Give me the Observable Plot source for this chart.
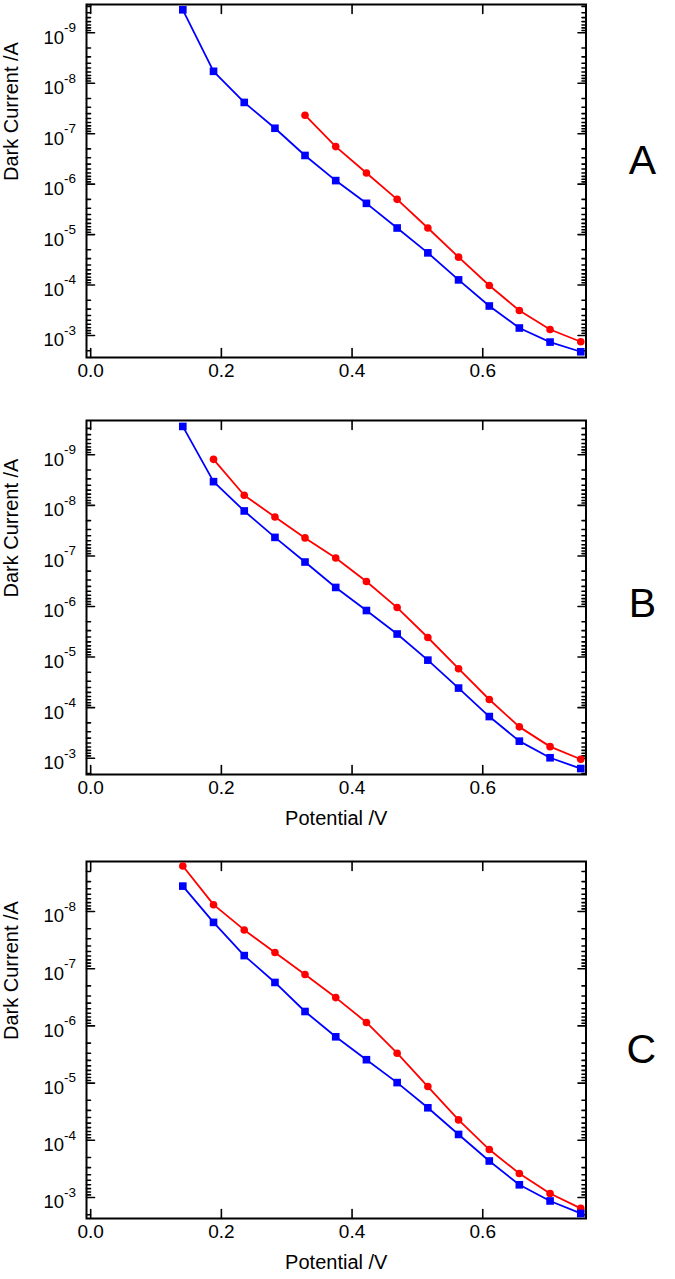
<!DOCTYPE html>
<html><head><meta charset="utf-8">
<script src="https://cdn.jsdelivr.net/npm/d3@7"></script>
<script src="https://cdn.jsdelivr.net/npm/@observablehq/plot@0.6"></script>
<style>
html,body{margin:0;padding:0;background:#fff;}
#chart svg{display:block;}
</style></head><body><div id="chart"></div>
<script>
// ---- data ----
const potential = [0.141, 0.188, 0.235, 0.282, 0.328, 0.375, 0.422, 0.469, 0.516, 0.563, 0.610, 0.656, 0.703, 0.750];
const blueA = [3.5e-10, 5.8e-9, 2.4e-8, 7.8e-8, 2.7e-7, 8.5e-7, 2.4e-6, 7.4e-6, 2.3e-5, 7.9e-5, 2.6e-4, 7.1e-4, 1.35e-3, 2.1e-3];
const redA  = [null, null, null, null, 4.3e-8, 1.8e-7, 6.0e-7, 2.0e-6, 7.4e-6, 2.8e-5, 1.02e-4, 3.2e-4, 7.6e-4, 1.33e-3];
const blueB = [2.75e-10, 3.4e-9, 1.29e-8, 4.3e-8, 1.32e-7, 4.2e-7, 1.2e-6, 3.5e-6, 1.15e-5, 4.1e-5, 1.5e-4, 4.6e-4, 9.8e-4, 1.6e-3];
const redB  = [null, 1.23e-9, 6.3e-9, 1.7e-8, 4.4e-8, 1.1e-7, 3.2e-7, 1.05e-6, 4.1e-6, 1.7e-5, 6.9e-5, 2.4e-4, 5.9e-4, 1.05e-3];
const blueC = [3.6e-9, 1.55e-8, 5.9e-8, 1.74e-7, 5.6e-7, 1.55e-6, 3.9e-6, 9.8e-6, 2.7e-5, 7.9e-5, 2.3e-4, 6.0e-4, 1.15e-3, 1.9e-3];
const redC  = [1.6e-9, 7.6e-9, 2.1e-8, 5.2e-8, 1.26e-7, 3.2e-7, 8.7e-7, 3.0e-6, 1.15e-5, 4.4e-5, 1.45e-4, 3.8e-4, 8.5e-4, 1.55e-3];
const panelLetters = ["A", "B", "C"];
const xTicks = [0, 0.2, 0.4, 0.6];
const xTickLabels = ["0.0", "0.2", "0.4", "0.6"];
const yTickExponents = [-9, -8, -7, -6, -5, -4, -3];
const xTitle = "Potential /V";
const yTitle = "Dark Current /A";

// ---- layout ----
const FONT = "'Liberation Sans', Arial, Helvetica, sans-serif";
const W = 675, ML = 86, MR = 89.5;
const xDomain = [-0.0064, 0.758];
const panels = [
  {letter: panelLetters[0], blue: blueA, red: redA, yDomain: [10 ** -9.561, 10 ** -2.564], height: 410, mt: 4,  mb: 53, showXTitle: false, letterDy: -20},
  {letter: panelLetters[1], blue: blueB, red: redB, yDomain: [10 ** -9.678, 10 ** -2.678], height: 430, mt: 10, mb: 66, showXTitle: true,  letterDy: 6},
  {letter: panelLetters[2], blue: blueC, red: redC, yDomain: [10 ** -8.874, 10 ** -2.633], height: 439, mt: 21, mb: 61, showXTitle: true,  letterDy: 10}
];

const tickShape = {draw(ctx, l) { ctx.moveTo(0, 0); ctx.lineTo(0, -l); }};

function makePanel(p) {
  const [lo, hi] = p.yDomain;
  const inDom = v => v >= lo * 0.999 && v <= hi * 1.001;
  const majors = yTickExponents.map(e => 10 ** e).filter(inDom);
  const majorExps = yTickExponents.filter(e => inDom(10 ** e));
  const minors = [];
  for (let e = -11; e <= -2; e++) for (let k = 2; k <= 9; k++) { const v = k * 10 ** e; if (inDom(v)) minors.push(v); }
  const blueData = potential.map((x, i) => ({x, y: p.blue[i]})).filter(d => d.y != null);
  const redData = potential.map((x, i) => ({x, y: p.red[i]})).filter(d => d.y != null);
  const tickStyle = {stroke: "black", strokeWidth: 1.6, shape: tickShape, anchor: "start"};
  const marks = [
    Plot.frame({stroke: "black", strokeWidth: 2}),
    // y ticks, left & right, inward
    Plot.vector(majors, {y: d => d, frameAnchor: "left", rotate: 90, length: 8, ...tickStyle}),
    Plot.vector(minors, {y: d => d, frameAnchor: "left", rotate: 90, length: 4, ...tickStyle}),
    Plot.vector(majors, {y: d => d, frameAnchor: "right", rotate: -90, length: 8, ...tickStyle}),
    Plot.vector(minors, {y: d => d, frameAnchor: "right", rotate: -90, length: 4, ...tickStyle}),
    // x ticks, bottom & top, inward
    Plot.vector(xTicks, {x: d => d, frameAnchor: "bottom", rotate: 0, length: 9, ...tickStyle}),
    Plot.vector(xTicks, {x: d => d, frameAnchor: "top", rotate: 180, length: 9, ...tickStyle}),
    // x tick labels
    Plot.text(xTicks, {x: d => d, frameAnchor: "bottom", dy: 19, text: (d, i) => xTickLabels[i], fontSize: 19, fill: "black"}),
    // y tick labels 10^e
    Plot.text(majorExps, {y: e => 10 ** e, frameAnchor: "left", dx: -22.5, dy: 5, textAnchor: "end", text: () => "10", fontSize: 18.5, fill: "black"}),
    Plot.text(majorExps, {y: e => 10 ** e, frameAnchor: "left", dx: -22.5, dy: -5, textAnchor: "start", text: e => "-" + Math.abs(e), fontSize: 13.5, fill: "black"}),
    // y title
    Plot.text([yTitle], {frameAnchor: "left", dx: -75, rotate: -90, text: d => d, fontSize: 20, fill: "black"}),
    // panel letter
    Plot.text([p.letter], {frameAnchor: "right", dx: 70, dy: p.letterDy, text: d => d, fontSize: 41, fill: "black"}),
    // data
    Plot.line(blueData, {x: "x", y: "y", stroke: "#0000ff", strokeWidth: 1.8}),
    Plot.line(redData, {x: "x", y: "y", stroke: "#ff0000", strokeWidth: 1.8}),
    Plot.dot(redData, {x: "x", y: "y", r: 3.8, fill: "#ff0000", stroke: "none"}),
    Plot.dot(blueData, {x: "x", y: "y", symbol: "square", r: 4.3, fill: "#0000ff", stroke: "none"})
  ];
  if (p.showXTitle) marks.push(Plot.text([xTitle], {frameAnchor: "bottom", dy: 50, text: d => d, fontSize: 20, fill: "black"}));
  return Plot.plot({
    width: W, height: p.height,
    marginLeft: ML, marginRight: MR, marginTop: p.mt, marginBottom: p.mb,
    style: {fontFamily: FONT, background: "white", overflow: "visible"},
    x: {domain: xDomain, axis: null},
    y: {type: "log", domain: p.yDomain, reverse: true, axis: null},
    marks
  });
}

const root = document.getElementById("chart");
for (const p of panels) root.appendChild(makePanel(p));
</script>
</body></html>
